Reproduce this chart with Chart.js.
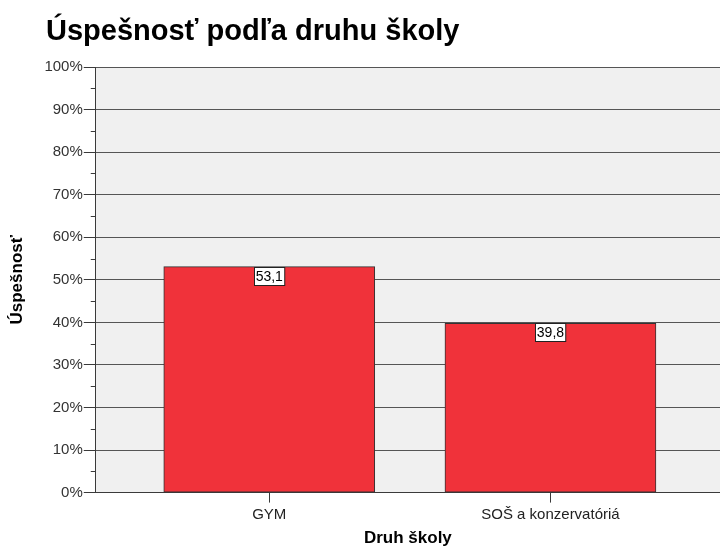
<!DOCTYPE html>
<html><head><meta charset="utf-8">
<script src="https://cdn.jsdelivr.net/npm/chart.js@4"></script>
<style>html,body{margin:0;padding:0;background:#fff}#wrap{width:720px;height:549px}</style>
</head><body><div id="wrap"><canvas id="c" width="720" height="549"></canvas></div>
<script>
const categories = ['GYM', 'SOŠ a konzervatóriá'];
const values = [53.1, 39.8];
const yTicks = [0,10,20,30,40,50,60,70,80,90,100];
const minorTicks = [5,15,25,35,45,55,65,75,85,95];
const chartTitle = 'Úspešnosť podľa druhu školy';
const xTitle = 'Druh školy';
const yTitle = 'Úspešnosť';

const AX = '#3a3a3a';
const FONT = 'Arial, "Liberation Sans", sans-serif';

const bgPlugin = {
  id: 'bg',
  beforeDraw(chart) {
    const {ctx, chartArea: a} = chart;
    ctx.save(); ctx.fillStyle = '#f0f0f0';
    ctx.fillRect(a.left, a.top, a.right - a.left, a.bottom - a.top);
    ctx.restore();
  },
  afterDraw(chart) {
    const {ctx, chartArea: a} = chart;
    const y = chart.scales.y;
    ctx.save();
    ctx.strokeStyle = AX; ctx.lineWidth = 1;
    minorTicks.forEach(v => {
      const py = Math.round(y.getPixelForValue(v)) + 0.5;
      ctx.beginPath(); ctx.moveTo(a.left - 5, py); ctx.lineTo(a.left, py); ctx.stroke();
    });
    const meta = chart.getDatasetMeta(0);
    ctx.font = '14px ' + FONT;
    ctx.textAlign = 'center'; ctx.textBaseline = 'middle';
    meta.data.forEach((bar, i) => {
      const txt = values[i].toFixed(1).replace('.', ',');
      const w = ctx.measureText(txt).width + 3;
      const h = 18;
      const x0 = Math.round(bar.x - w / 2) + 0.5, y0 = Math.round(bar.y) + 0.5;
      ctx.fillStyle = '#fff'; ctx.fillRect(x0, y0, w, h);
      ctx.strokeStyle = '#222'; ctx.strokeRect(x0, y0, w, h);
      ctx.fillStyle = '#000'; ctx.fillText(txt, bar.x, y0 + h / 2 + 1);
    });
    ctx.font = 'bold 29px ' + FONT;
    ctx.textAlign = 'left'; ctx.textBaseline = 'alphabetic';
    ctx.fillStyle = '#000';
    ctx.fillText(chartTitle, 46, 40);
    ctx.restore();
  }
};

new Chart(document.getElementById('c'), {
  type: 'bar',
  data: {
    datasets: [{
      data: values.map((v, i) => ({x: i + 1, y: v})),
      backgroundColor: '#f0323a',
      borderColor: '#333',
      borderWidth: 1,
      borderSkipped: false,
      barThickness: 211
    }]
  },
  options: {
    responsive: false,
    animation: false,
    layout: {padding: {top: 67, right: 0, left: 7, bottom: 0}},
    plugins: {legend: {display: false}, tooltip: {enabled: false}, title: {display: false}},
    scales: {
      x: {
        type: 'linear', min: 0.383, max: 2.603, offset: false,
        afterBuildTicks(s) { s.ticks = categories.map((c, i) => ({value: i + 1})); },
        ticks: {
          callback: (v) => categories[v - 1],
          color: '#222', font: {family: FONT, size: 15}, padding: 3, maxRotation: 0, autoSkip: false
        },
        grid: {drawOnChartArea: false, offset: false, tickLength: 10, color: AX, tickColor: AX},
        border: {color: AX, width: 1},
        title: {display: true, text: xTitle, color: '#000', font: {family: FONT, size: 17, weight: 'bold'}, padding: {top: 2, bottom: 0}}
      },
      y: {
        min: 0, max: 100,
        afterBuildTicks(s) { s.ticks = yTicks.map(v => ({value: v})); },
        ticks: {
          callback: (v) => v + '%',
          color: '#333', font: {family: FONT, size: 15}, padding: 1
        },
        grid: {color: '#555', tickColor: AX, tickLength: 12, lineWidth: 1},
        border: {color: AX, width: 1},
        title: {display: true, text: yTitle, color: '#000', font: {family: FONT, size: 17, weight: 'bold'}, padding: {top: 0, bottom: 16}}
      }
    }
  },
  plugins: [bgPlugin]
});
</script>
</body></html>
